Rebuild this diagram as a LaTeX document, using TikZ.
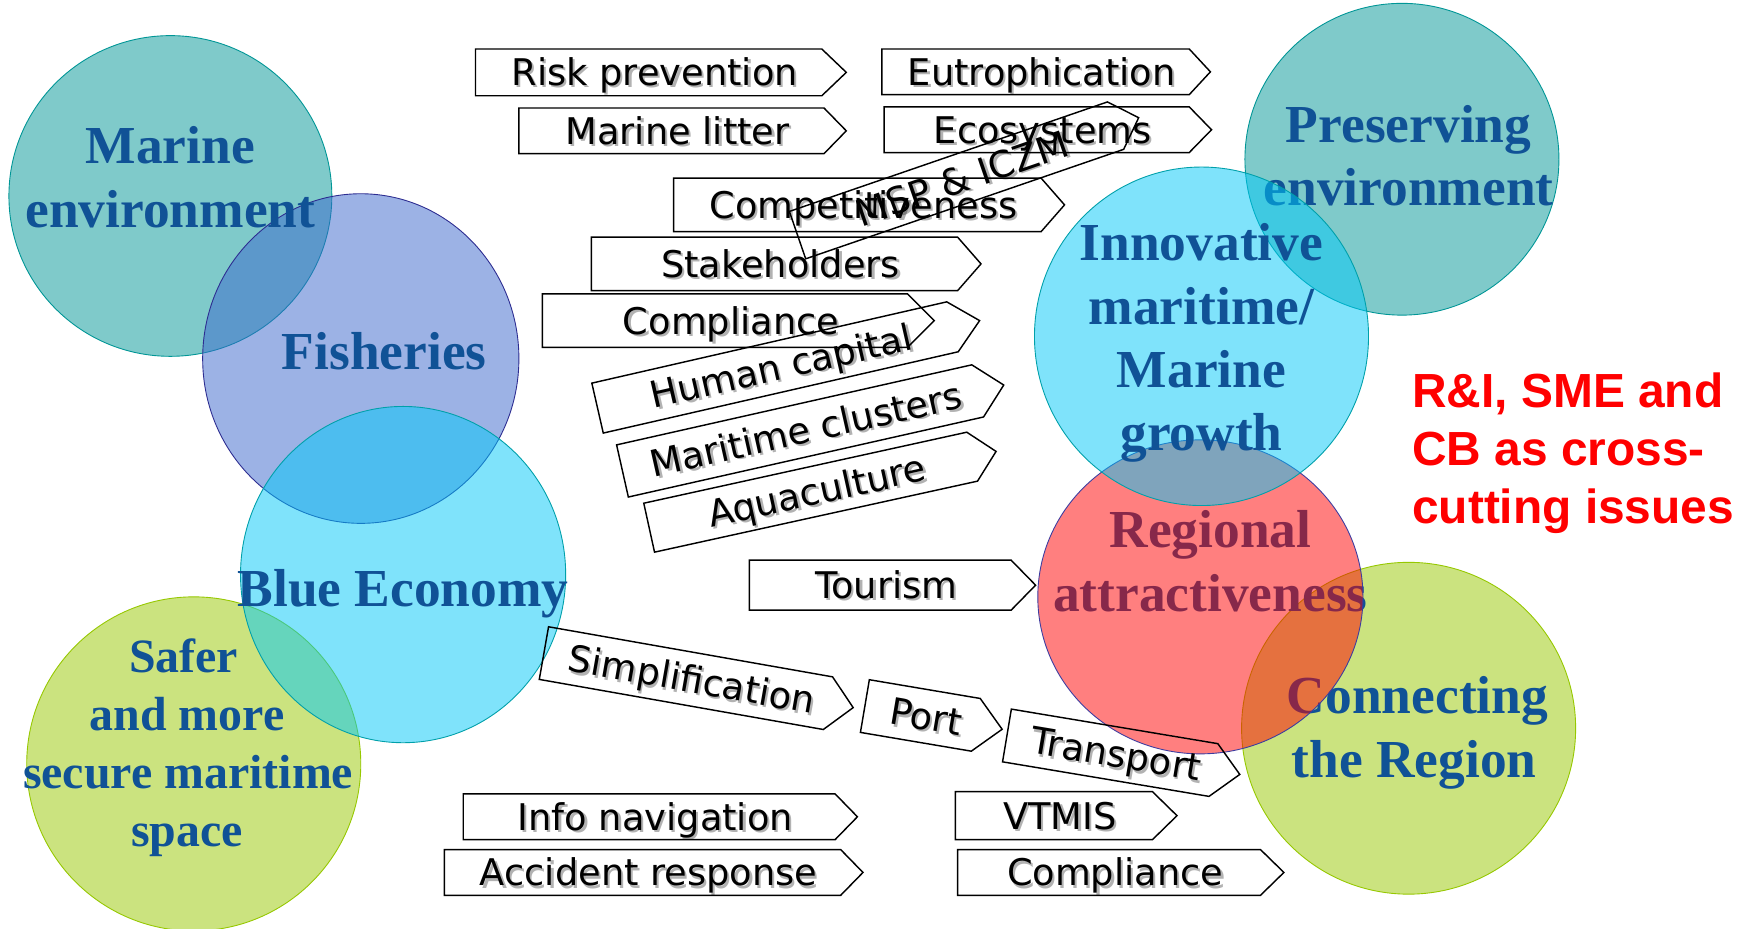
\documentclass[tikz,border=0pt]{standalone}
\usepackage{fontspec}
\setmainfont{Liberation Serif}
\newfontfamily\chevfont{DejaVu Sans}
\newfontfamily\redfont{Liberation Sans}
\definecolor{tealF}{RGB}{0,151,151}
\definecolor{tealD}{RGB}{0,150,150}
\definecolor{fishF}{RGB}{59,103,205}
\definecolor{fishD}{RGB}{45,45,145}
\definecolor{blueF}{RGB}{0,201,249}
\definecolor{blueD}{RGB}{0,160,170}
\definecolor{greenF}{RGB}{153,201,0}
\definecolor{greenD}{RGB}{150,200,0}
\definecolor{redF}{RGB}{255,0,0}
\definecolor{redD}{RGB}{60,60,160}
\definecolor{txtblue}{RGB}{16,82,150}
\definecolor{crossred}{RGB}{255,0,0}
\tikzset{
  circ/.style={line width=0.8pt, fill opacity=0.5},
  biglbl/.style={font=\fontsize{48}{57}\selectfont\bfseries, text=txtblue, anchor=base, inner sep=0pt},
  midlbl/.style={font=\fontsize{43}{52}\selectfont\bfseries, text=txtblue, anchor=base, inner sep=0pt},
  redlbl/.style={font=\redfont\fontsize{43}{52}\selectfont\bfseries, text=crossred, anchor=base west, inner sep=0pt},
  chevline/.style={draw=black, line width=1.3pt, line join=miter},
  chevtxt/.style={font=\chevfont\fontsize{33}{40}\selectfont, inner sep=0pt, text height=24pt, text depth=0pt, anchor=center},
  chevshadow/.style={chevtxt, text=black, text opacity=0.3}
}
\newcommand\chev[8]{%
  \begin{scope}[shift={(#2,#3)}, rotate=#4]
    \draw[chevline] (-#5/2,-#6/2) -- (#5/2,-#6/2) -- (#5/2+#7,0) -- (#5/2,#6/2) -- (-#5/2,#6/2) -- cycle;
    \node[chevshadow, rotate=#4] (#1s) at (7.5,2) {#8};
    \node[chevtxt, rotate=#4] (#1) at (5.5,0) {#8};
  \end{scope}}
\begin{document}
\begin{tikzpicture}[x=1pt,y=-1pt]
\useasboundingbox (0,0) rectangle (1568,834);
\fill[white] (0,0) rectangle (1568,834);

% ---- left cluster
\draw[circ, draw=tealD, fill=tealF] (153,176) ellipse [x radius=145, y radius=144];
\draw[circ, draw=fishD, fill=fishF] (324,322) ellipse [x radius=142, y radius=148];
\draw[circ, draw=greenD, fill=greenF] (174,686) ellipse [x radius=150, y radius=150];
\draw[circ, draw=blueD, fill=blueF] (362,516) ellipse [x radius=146, y radius=151];

\node[biglbl] (me1) at (153,147) {Marine};
\node[biglbl] (me2) at (153,204) {environment};
\node[biglbl] (fi1) at (345,332) {Fisheries};
\node[biglbl] (be1) at (362,545) {Blue Economy};
\node[midlbl] (sa1) at (165,604) {Safer};
\node[midlbl] (sa2) at (168,656) {and more};
\node[midlbl] (sa3) at (169,708) {secure maritime};
\node[midlbl] (sa4) at (168,760) {space};

% ---- right cluster
\draw[circ, draw=tealD, fill=tealF] (1259,143) ellipse [x radius=141, y radius=140];
\node[biglbl] (pe1) at (1265,128) {Preserving};
\node[biglbl] (pe2) at (1265,185) {environment};

\draw[circ, draw=greenD, fill=greenF] (1265,654) ellipse [x radius=150, y radius=149];
\node[biglbl] (co1) at (1273,641) {Connecting};
\node[biglbl] (co2) at (1270,698) {the Region};

\node[biglbl] (ra1) at (1087,492) {Regional};
\node[biglbl] (ra2) at (1087,549) {attractiveness};
\draw[circ, draw=redD, fill=redF] (1078,536) ellipse [x radius=146, y radius=141];

\draw[circ, draw=blueD, fill=blueF] (1079,302) ellipse [x radius=150, y radius=152];
\node[biglbl] (in1) at (1079,234) {Innovative};
\node[biglbl] (in2) at (1079,291) {maritime/};
\node[biglbl] (in3) at (1079,348) {Marine};
\node[biglbl] (in4) at (1079,405) {growth};

% ---- cross-cutting
\node[redlbl] (rd1) at (1268,366) {R\&I, SME and};
\node[redlbl] (rd2) at (1268,418) {CB as cross-};
\node[redlbl] (rd3) at (1268,470) {cutting issues};

% ---- chevrons
\chev{risk}{582.5}{65}{0}{311}{42}{22}{Risk prevention}
\chev{eutro}{930}{64.5}{0}{276}{41}{19}{Eutrophication}
\chev{litter}{603}{117.5}{0}{274}{41}{20}{Marine litter}
\chev{eco}{931}{116.5}{0}{274}{41}{20}{Ecosystems}
\chev{comp}{770}{184}{0}{330}{48}{21}{Competitiveness}
\chev{stake}{695.5}{237}{0}{329}{48}{21}{Stakeholders}
\chev{compl}{651}{288}{0}{328}{48}{24}{Compliance}
\chev{human}{696}{330}{12.9}{327}{46}{25}{Human capital}
\chev{clust}{718.5}{387}{12.7}{327}{48}{24}{Maritime clusters}
\chev{aqua}{728}{442}{12.4}{297}{45}{22}{Aquaculture}
\chev{msp}{859}{162}{19}{302}{45}{22}{MSP \& ICZM}
\chev{tour}{790.5}{525.5}{0}{235}{45}{22}{Tourism}
\chev{simp}{616}{609}{-10}{259}{48}{23}{Simplification}
\chev{port}{826.5}{642.5}{-9.6}{101}{48}{24}{Port}
\chev{trans}{997}{676}{-9.5}{188}{48}{24}{Transport}
\chev{info}{583}{733.5}{0}{334}{41}{20}{Info navigation}
\chev{acc}{577}{783.5}{0}{356}{41}{20}{Accident response}
\chev{vtmis}{946.5}{732.5}{0}{177}{43}{22}{VTMIS}
\chev{compl2}{996}{783.5}{0}{272}{41}{21}{Compliance}
\end{tikzpicture}
\end{document}
